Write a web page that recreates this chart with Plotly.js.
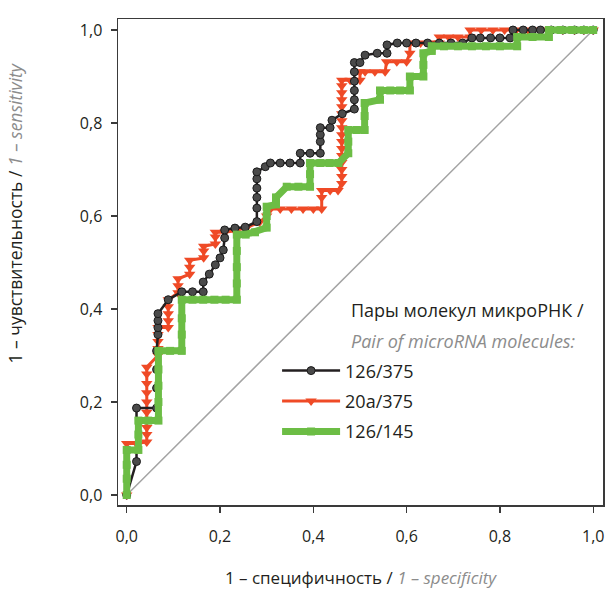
<!DOCTYPE html>
<html>
<head>
<meta charset="utf-8">
<script src="https://cdn.plot.ly/plotly-3.0.1.min.js"></script>
<style>html,body{margin:0;padding:0;background:#fff;}#chart{width:606px;height:592px;}</style>
</head>
<body>
<div id="chart"></div>
<script>
// ---- data ----
var seriesNames = ['126/375', '20a/375', '126/145'];

var fpr126_375 = [0, 0.021, 0.021, 0.064, 0.064, 0.064, 0.064,
  0.067, 0.067, 0.067, 0.067, 0.089, 0.118, 0.141, 0.164, 0.164, 0.177,
  0.19, 0.2, 0.207, 0.21, 0.21, 0.232, 0.254, 0.279, 0.279, 0.279,
  0.279, 0.279, 0.279, 0.297, 0.308, 0.329, 0.35, 0.372, 0.372, 0.393,
  0.415, 0.415, 0.415, 0.415, 0.436, 0.44, 0.462, 0.488, 0.488, 0.488,
  0.488, 0.488, 0.488, 0.5, 0.511, 0.537, 0.558, 0.558, 0.58, 0.6,
  0.62, 0.645, 0.67, 0.695, 0.72, 0.74, 0.758, 0.78, 0.8, 0.822,
  0.828, 0.85, 0.87, 0.887, 0.91, 0.935, 0.96, 0.98, 1.0];
var tpr126_375 = [0, 0.072, 0.187, 0.187, 0.23, 0.27, 0.31,
  0.345, 0.36, 0.375, 0.39, 0.42, 0.437, 0.437, 0.437, 0.458, 0.475,
  0.495, 0.51, 0.527, 0.553, 0.57, 0.574, 0.576, 0.588, 0.617, 0.64,
  0.66, 0.68, 0.695, 0.706, 0.714, 0.714, 0.714, 0.714, 0.735, 0.735,
  0.735, 0.76, 0.775, 0.79, 0.79, 0.806, 0.82, 0.83, 0.85, 0.87,
  0.89, 0.91, 0.93, 0.93, 0.946, 0.95, 0.95, 0.968, 0.972, 0.972,
  0.972, 0.972, 0.972, 0.972, 0.972, 0.983, 0.983, 0.983, 0.983, 0.983,
  1.0, 1.0, 1.0, 1.0, 1.0, 1.0, 1.0, 1.0, 1.0];

var fpr20a_375 = [0, 0, 0.021, 0.043, 0.043, 0.043, 0.043, 0.043, 0.043, 0.043,
  0.043, 0.043, 0.067, 0.067, 0.067, 0.067, 0.067, 0.089, 0.089, 0.089,
  0.089, 0.089, 0.11, 0.11, 0.11, 0.135, 0.135, 0.135, 0.165, 0.165,
  0.165, 0.19, 0.19, 0.19, 0.21, 0.232, 0.257, 0.285, 0.30, 0.308,
  0.329, 0.353, 0.378, 0.40, 0.418, 0.418, 0.418, 0.436, 0.453, 0.461,
  0.461, 0.461, 0.461, 0.461, 0.461, 0.461, 0.461, 0.461, 0.461, 0.461,
  0.461, 0.461, 0.461, 0.461, 0.461, 0.479, 0.50, 0.50, 0.511, 0.532,
  0.554, 0.557, 0.579, 0.60, 0.607, 0.607, 0.63, 0.65, 0.67, 0.67,
  0.69, 0.71, 0.736, 0.736, 0.76, 0.785, 0.81, 0.835, 0.86, 0.885,
  0.91, 0.935, 0.96, 0.98, 1.0];
var tpr20a_375 = [0, 0.111, 0.111, 0.114, 0.13, 0.145, 0.178, 0.2, 0.22, 0.24,
  0.26, 0.275, 0.30, 0.315, 0.33, 0.345, 0.36, 0.36, 0.375, 0.39,
  0.405, 0.42, 0.435, 0.45, 0.465, 0.475, 0.49, 0.505, 0.51, 0.525,
  0.535, 0.54, 0.555, 0.565, 0.565, 0.568, 0.575, 0.587, 0.6, 0.615,
  0.615, 0.615, 0.615, 0.615, 0.615, 0.64, 0.655, 0.655, 0.655, 0.67,
  0.685, 0.70, 0.715, 0.73, 0.745, 0.76, 0.775, 0.79, 0.805, 0.82,
  0.835, 0.85, 0.865, 0.88, 0.892, 0.892, 0.892, 0.91, 0.91, 0.91,
  0.91, 0.932, 0.932, 0.932, 0.95, 0.972, 0.972, 0.972, 0.972, 0.985,
  0.985, 0.985, 0.985, 1.0, 1.0, 1.0, 1.0, 1.0, 1.0, 1.0,
  1.0, 1.0, 1.0, 1.0, 1.0];

var fpr126_145 = [0, 0, 0, 0, 0.025, 0.025, 0.025, 0.046, 0.068, 0.068,
  0.068, 0.068, 0.068, 0.093, 0.118, 0.118, 0.118, 0.118, 0.141, 0.164,
  0.188, 0.212, 0.236, 0.236, 0.236, 0.236, 0.236, 0.255, 0.275, 0.30,
  0.30, 0.30, 0.32, 0.32, 0.343, 0.368, 0.393, 0.393, 0.393, 0.415,
  0.435, 0.454, 0.475, 0.475, 0.475, 0.493, 0.51, 0.51, 0.51, 0.543,
  0.543, 0.565, 0.586, 0.607, 0.607, 0.636, 0.636, 0.636, 0.654, 0.654,
  0.68, 0.71, 0.74, 0.77, 0.80, 0.837, 0.837, 0.87, 0.905, 0.905,
  0.93, 0.955, 0.98, 1.0];
var tpr126_145 = [0, 0.035, 0.065, 0.097, 0.097, 0.13, 0.16, 0.16, 0.16, 0.2,
  0.235, 0.27, 0.31, 0.31, 0.31, 0.345, 0.38, 0.42, 0.42, 0.42,
  0.42, 0.42, 0.42, 0.455, 0.49, 0.525, 0.56, 0.56, 0.565, 0.575,
  0.6, 0.62, 0.625, 0.64, 0.663, 0.663, 0.663, 0.69, 0.714, 0.714,
  0.714, 0.714, 0.735, 0.76, 0.785, 0.785, 0.785, 0.815, 0.843, 0.85,
  0.87, 0.87, 0.87, 0.87, 0.90, 0.90, 0.925, 0.95, 0.955, 0.965,
  0.965, 0.965, 0.965, 0.965, 0.965, 0.965, 0.985, 0.985, 0.985, 1.0,
  1.0, 1.0, 1.0, 1.0];

var diagX = [0, 1];
var diagY = [0, 1];

var tickVals = [0, 0.2, 0.4, 0.6, 0.8, 1.0];
var tickText = ['0,0', '0,2', '0,4', '0,6', '0,8', '1,0'];

var xTitle = '1 – специфичность / <span style="color:#8c8c8c"><i>1 – specificity</i></span>';
var yTitle = '1 – чувствительность / <span style="color:#8c8c8c"><i>1 – sensitivity</i></span>';
var legendTitle1 = 'Пары молекул микроРНК /';
var legendTitle2 = '<i>Pair of microRNA molecules:</i>';

// ---- chart ----
var FONT = 'Open Sans, Noto Sans, sans-serif';
var DARK = '#231f20';

var traces = [
  {x: diagX, y: diagY, mode: 'lines', showlegend: false, hoverinfo: 'skip',
   line: {color: '#a3a3a3', width: 1.5}},
  {x: fpr20a_375, y: tpr20a_375, name: seriesNames[1], legendrank: 2, legendgroup: 'b',
   mode: 'lines+markers',
   line: {color: '#ef4a26', width: 3},
   marker: {symbol: 'triangle-down', size: 10, color: '#ef4a26'}},
  {x: fpr126_375, y: tpr126_375, name: seriesNames[0], legendrank: 1, legendgroup: 'a',
   mode: 'lines+markers',
   line: {color: DARK, width: 2.5},
   marker: {symbol: 'circle', size: 8, color: '#4a4a4a', line: {color: '#1a1a1a', width: 1}}},
  {x: fpr126_145, y: tpr126_145, name: seriesNames[2], legendrank: 3, legendgroup: 'c',
   mode: 'lines+markers',
   line: {color: '#6cbd45', width: 7},
   marker: {symbol: 'square', size: 8, color: '#6cbd45'}}
];

var axisCommon = {
  showgrid: false, zeroline: false, showline: true, mirror: true,
  linecolor: '#3a3a3a', linewidth: 1.5,
  ticks: 'outside', ticklen: 6, tickwidth: 1.2, tickcolor: '#3a3a3a',
  tickvals: tickVals, ticktext: tickText,
  tickfont: {family: FONT, size: 16, color: DARK}
};

var layout = {
  width: 606, height: 592,
  margin: {l: 118, r: 3, t: 19, b: 87},
  paper_bgcolor: '#ffffff', plot_bgcolor: '#ffffff',
  font: {family: FONT, color: DARK},
  xaxis: Object.assign({}, axisCommon, {
    range: [-0.0187, 1.021],
    ticklabelstandoff: 10,
    title: {text: xTitle, font: {family: FONT, size: 17, color: DARK}, standoff: 26}
  }),
  yaxis: Object.assign({}, axisCommon, {
    range: [-0.0215, 1.0237],
    ticklabelstandoff: 5
  }),
  showlegend: true,
  legend: {
    x: 0.328, y: 0.314, xanchor: 'left', yanchor: 'top',
    bgcolor: 'rgba(0,0,0,0)', borderwidth: 0,
    font: {family: FONT, size: 18, color: DARK},
    itemwidth: 58, tracegroupgap: 4
  },
  annotations: [
    {text: legendTitle1, xref: 'paper', yref: 'paper', x: 0.477, y: 0.401,
     xanchor: 'left', yanchor: 'middle', showarrow: false,
     font: {family: FONT, size: 18, color: DARK}},
    {text: legendTitle2, xref: 'paper', yref: 'paper', x: 0.477, y: 0.337,
     xanchor: 'left', yanchor: 'middle', showarrow: false,
     font: {family: FONT, size: 18, color: '#8c8c8c'}},
    {text: yTitle, xref: 'paper', yref: 'paper', x: -0.212, y: 0.6,
     xanchor: 'center', yanchor: 'middle', textangle: -90, showarrow: false,
     font: {family: FONT, size: 17.5, color: DARK}}
  ]
};

Plotly.newPlot('chart', traces, layout, {displayModeBar: false, staticPlot: true});
</script>
</body>
</html>
